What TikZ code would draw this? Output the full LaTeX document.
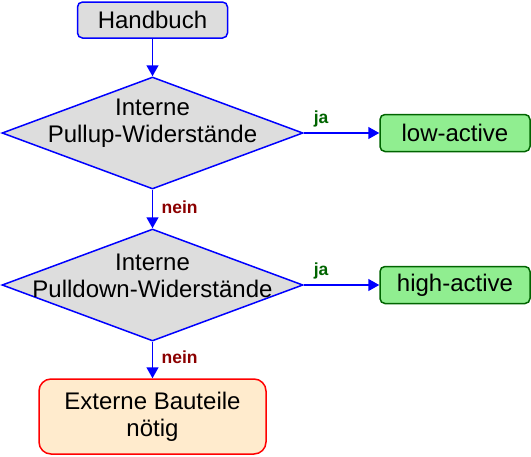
\documentclass[tikz,border=0pt]{standalone}
\usepackage{fontspec}
\setmainfont{Liberation Sans}
\usetikzlibrary{arrows.meta,shapes.geometric}
\definecolor{flowblue}{RGB}{0,0,255}
\definecolor{boxgray}{RGB}{221,221,221}
\definecolor{yesgreen}{RGB}{0,100,0}
\definecolor{nored}{RGB}{139,0,0}
\definecolor{okfill}{RGB}{144,238,144}
\definecolor{extfill}{RGB}{255,235,205}
\tikzset{start/.style={draw=flowblue,fill=boxgray,rounded corners=5pt,line width=1.5pt,
 minimum width=150pt,minimum height=36pt},
 decision/.style={diamond,draw=flowblue,fill=boxgray,line width=1.5pt,inner sep=0pt,
 minimum width=301pt,minimum height=112pt},
 result/.style={draw=yesgreen,fill=okfill,rounded corners=5pt,line width=1.5pt,
 minimum width=150pt,minimum height=37pt},
 external/.style={draw=red,fill=extfill,rounded corners=12pt,line width=1.5pt,
 minimum width=227pt,minimum height=75pt,align=center},
 flow/.style={-{Triangle[length=11pt,width=12pt]},flowblue,line width=1.5pt},
 yes/.style={font=\fontsize{17.5}{20}\selectfont\bfseries,text=yesgreen},
 no/.style={font=\fontsize{17.5}{20}\selectfont\bfseries,text=nored},
 every node/.style={font=\fontsize{24}{27}\selectfont}}

\begin{document}
\begin{tikzpicture}[x=1pt,y=-1pt]
\useasboundingbox (0,0) rectangle (531,456);
\node[start] (manual) at (152.5,20) {Handbuch};
\foreach \name/\ypos/\what/\result/\restext in {
pullup/133/Pullup/low/low-active,pulldown/285/Pulldown/high/high-active} {
\node[decision] (\name) at (152.5,\ypos) {};
\node[align=center,yshift=9.5pt] (\name-text) at (\name) {Interne\\\what-Widerstände};
\node[result] (\result) at (455,\ypos) {\restext};
\draw[flow] (\name) -- node[yes,pos=.23,above,yshift=2pt] {ja} (\result);
}
\node[external] (ext) at (152.5,416.5) {Externe Bauteile\\nötig};
\draw[flow] (manual) -- (pullup);
\draw[flow] (pullup) -- node[no,pos=.45,right,xshift=5pt] {nein} (pulldown);
\draw[flow] (pulldown) -- node[no,pos=.42,right,xshift=5pt] {nein} (ext);
\end{tikzpicture}
\end{document}
